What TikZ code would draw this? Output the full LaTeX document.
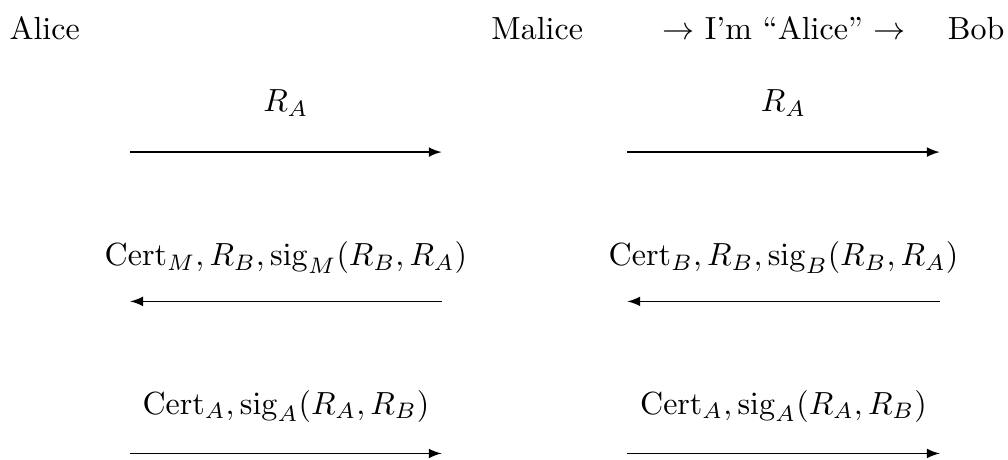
\documentclass[tikz,border=0pt]{standalone}
\usepackage{amsmath,amssymb}
\usepackage{tikz}
\usetikzlibrary{arrows}

\begin{document}
\begin{tikzpicture}[>=latex,
    party/.style={inner sep=2pt},
    msg/.style={->, thin},
    lbl/.style={inner sep=1pt}]

\useasboundingbox (0,0) rectangle (11.07,-5.05);

% parties
\node [party] (alice) at (0.49,-0.31) {Alice};
\node [party] (malice) at (5.90,-0.31) {Malice};
\node [party] (claim) at (8.61,-0.31) {$\rightarrow$ I'm ``Alice'' $\rightarrow$};
\node [party] (bob) at (10.72,-0.31) {Bob};

% arrow ends
\coordinate (l1) at (1.43,-1.67);  \coordinate (m1) at (4.85,-1.67);
\coordinate (n1) at (6.89,-1.67);  \coordinate (r1) at (10.32,-1.67);
\coordinate (l2) at (1.43,-3.31);  \coordinate (m2) at (4.85,-3.31);
\coordinate (n2) at (6.89,-3.31);  \coordinate (r2) at (10.32,-3.31);
\coordinate (l3) at (1.43,-4.98);  \coordinate (m3) at (4.85,-4.98);
\coordinate (n3) at (6.89,-4.98);  \coordinate (r3) at (10.32,-4.98);

\draw [msg] (l1) -- node[lbl, yshift=0.54cm] (t1) {$R_A$} (m1);
\draw [msg] (n1) -- node[lbl, yshift=0.54cm] (u1) {$R_A$} (r1);

\draw [msg] (m2) -- node[lbl, yshift=0.48cm] (t2) {$\mathrm{Cert}_M, R_B, \mathrm{sig}_M(R_B, R_A)$} (l2);
\draw [msg] (r2) -- node[lbl, yshift=0.48cm] (u2) {$\mathrm{Cert}_B, R_B, \mathrm{sig}_B(R_B, R_A)$} (n2);

\draw [msg] (l3) -- node[lbl, yshift=0.52cm] (t3) {$\mathrm{Cert}_A, \mathrm{sig}_A(R_A, R_B)$} (m3);
\draw [msg] (n3) -- node[lbl, yshift=0.52cm] (u3) {$\mathrm{Cert}_A, \mathrm{sig}_A(R_A, R_B)$} (r3);

\end{tikzpicture}
\end{document}
